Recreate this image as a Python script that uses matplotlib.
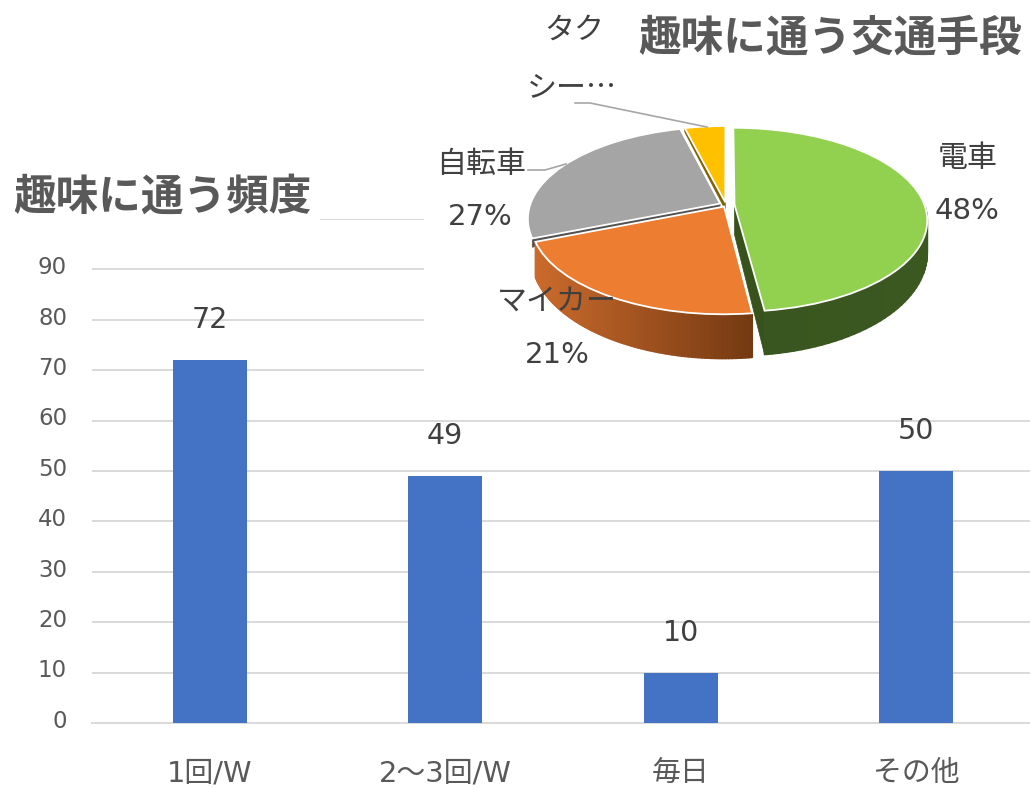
import numpy as np
import matplotlib
matplotlib.use("Agg")
import matplotlib.pyplot as plt
from matplotlib.collections import PolyCollection
from matplotlib.patches import Rectangle
from matplotlib.transforms import Transform, ScaledTranslation

plt.rcParams['font.family'] = ['Noto Sans CJK JP', 'DejaVu Sans']
LATIN_FIRST = ['DejaVu Sans', 'Noto Sans CJK JP']

bar_title = '趣味に通う頻度'
bar_cats = ['1回/W', '2〜3回/W', '毎日', 'その他']
bar_vals = [72, 49, 10, 50]
y_ticks = list(range(0, 101, 10))

pie_title = '趣味に通う交通手段'
pie_names = ['電車', 'マイカー', '自転車', 'タクシー…']
pie_vals = [48, 21, 27, 4]
pie_colors = ['#92D050', '#ED7D31', '#A5A5A5', '#FFC000']
pie_explode = [0.045, 0.02, 0.035, 0.03]

W, H = 1030, 788
GRID = '#D9D9D9'
TXT = '#595959'
LBL = '#404040'

fig = plt.figure(figsize=(W / 100, H / 100), dpi=100, facecolor='white')

# ---------- bar chart ----------
ax = fig.add_axes([92 / W, 1 - 723 / H, (1034 - 92) / W, (723 - 219) / H])
x = np.arange(len(bar_cats))
ax.bar(x, bar_vals, width=0.314, color='#4472C4', zorder=3)
ax.set_xlim(-0.5, len(bar_cats) - 0.5)
ax.set_ylim(0, 100)
ax.set_yticks(y_ticks)
ax.set_yticklabels([str(t) if t < 100 else '' for t in y_ticks], fontsize=16.5, color=TXT,
                   family=LATIN_FIRST)
ax.set_xticks(x)
ax.set_xticklabels(bar_cats, fontsize=20.8, color=TXT, family=LATIN_FIRST)
ax.tick_params(axis='both', length=0)
ax.tick_params(axis='y', pad=18)
ax.tick_params(axis='x', pad=26)
shift = ScaledTranslation(0, 3 / 72, fig.dpi_scale_trans)
for lab in ax.get_yticklabels():
    lab.set_transform(lab.get_transform() + shift)
ax.grid(axis='y', color=GRID, lw=1.4, zorder=0)
ax.set_axisbelow(True)
for s in ('top', 'left', 'right'):
    ax.spines[s].set_visible(False)
ax.spines['bottom'].set_color(GRID)
ax.spines['bottom'].set_linewidth(1.4)
for xi, v in zip(x, bar_vals):
    ax.annotate(str(v), (xi, v), xytext=(0, 28.8), textcoords='offset points',
                ha='center', va='center', fontsize=20.5, color=LBL, zorder=5, family=LATIN_FIRST)

# ---------- overlay in pixel space ----------
ov = fig.add_axes([0, 0, 1, 1], facecolor='none')


class Persp(Transform):
    """Projects the unit pie disc to the tilted screen ellipse."""
    input_dims = 2
    output_dims = 2
    is_separable = False
    has_inverse = False
    cx, cy, rx, ry, k = 726.0, 205.0, 190.0, 89.6, 0.163

    def transform_non_affine(self, xy):
        xy = np.asarray(xy, float)
        v = -xy[:, 1]
        w = 1 - self.k * v
        return np.column_stack([self.cx + self.rx * xy[:, 0] / w, self.cy + self.ry * v / w])


persp = Persp()
wedges, _ = ov.pie(pie_vals, colors=pie_colors, startangle=90, counterclock=False,
                   explode=pie_explode, radius=1.0,
                   wedgeprops=dict(edgecolor='white', linewidth=1.3))
ov.set_aspect('auto')
ov.set_xlim(0, W)
ov.set_ylim(H, 0)
ov.set_axis_off()


def depth(v):
    return 30 + 14 * v


def extrude(unit):
    unit = np.atleast_2d(unit)
    px = persp.transform_non_affine(unit)
    return px + np.column_stack([np.zeros(len(px)), depth(-unit[:, 1])])


def rim(w, t):
    return np.array(w.center) + w.r * np.column_stack([np.cos(np.radians(t)), np.sin(np.radians(t))])


def side_wall(w, c_from, c_to, z):
    """Outer wall of a wedge, split into quads for the shading."""
    lo, hi = w.theta1 % 360, w.theta2 % 360
    if hi <= lo:
        hi += 360
    ts = [a for a in np.linspace(lo, hi, 90) if 180 <= a % 360 <= 360]
    if len(ts) < 2:
        return
    u = rim(w, np.array(ts))
    top = persp.transform_non_affine(u)
    bot = extrude(u)
    xs = top[:, 0]
    f = (xs - xs.min()) / max(np.ptp(xs), 1)
    c0, c1 = matplotlib.colors.to_rgb(c_from), matplotlib.colors.to_rgb(c_to)
    polys, cols = [], []
    for i in range(len(ts) - 1):
        polys.append([top[i], top[i + 1], bot[i + 1], bot[i]])
        m = (f[i] + f[i + 1]) / 2
        cols.append(tuple(c0[j] + (c1[j] - c0[j]) * m for j in range(3)))
    ov.add_collection(PolyCollection(polys, facecolors=cols, edgecolors=cols, linewidths=1.2, zorder=z))


def cut_face(w, angle, color, z, scale=1.0):
    """Radial cut face of a wedge at the given angle; scale trims the visible depth."""
    c = np.array(w.center)[None, :]
    e = rim(w, np.array([angle]))
    a, b = persp.transform_non_affine(c)[0], persp.transform_non_affine(e)[0]
    a2, b2 = extrude(c)[0], extrude(e)[0]
    a2 = a + (a2 - a) * scale
    b2 = b + (b2 - b) * scale
    ov.add_patch(plt.Polygon([a, b, b2, a2], closed=True, facecolor=color, edgecolor=color,
                             linewidth=0.5, zorder=z))


order = {2: 3, 3: 5, 0: 7, 1: 9}   # back to front: grey, yellow, green, orange
for i, w in enumerate(wedges):
    w.set_transform(persp + ov.transData)
    w.set_zorder(order[i] + 1)
    w.set_clip_on(False)

cut_face(wedges[2], wedges[2].theta2, '#525252', 3, scale=0.25)
cut_face(wedges[3], wedges[3].theta2, '#7F6000', 5, scale=0.25)
cut_face(wedges[0], wedges[0].theta1, '#38521E', 7)
side_wall(wedges[0], '#3A5620', '#3C5821', 7)
side_wall(wedges[1], '#CB6B2C', '#753A12', 9)

# white panels of the two chart boxes
ov.add_patch(Rectangle((424, 0), W - 424, 392, facecolor='white', edgecolor='none', zorder=1))
ov.add_patch(Rectangle((0, 165), 320, 62, facecolor='white', edgecolor='none', zorder=1))

# titles
ov.text(13, 197, bar_title, fontsize=30.7, fontweight='bold', color=TXT, va='center', ha='left', zorder=20)
ov.text(1022, 38, pie_title, fontsize=30.7, fontweight='bold', color=TXT, va='center', ha='right', zorder=20)

# pie labels
ov.text(968, 158, pie_names[0], fontsize=21.6, color=LBL, ha='center', va='center', zorder=20)
ov.text(967, 211, f'{pie_vals[0]}%', fontsize=21, color=LBL, ha='center', va='center', zorder=20, family=LATIN_FIRST)
ov.text(557, 301, pie_names[1], fontsize=21.6, color=LBL, ha='center', va='center', zorder=20)
ov.text(557, 355, f'{pie_vals[1]}%', fontsize=21, color=LBL, ha='center', va='center', zorder=20, family=LATIN_FIRST)
ov.text(481, 164, pie_names[2], fontsize=21.6, color=LBL, ha='center', va='center', zorder=20)
ov.text(480, 217, f'{pie_vals[2]}%', fontsize=21, color=LBL, ha='center', va='center', zorder=20, family=LATIN_FIRST)
ov.text(574, 30, pie_names[3][:2], fontsize=21.6, color=LBL, ha='center', va='center', zorder=20)
ov.text(572, 88, pie_names[3][2:], fontsize=21.6, color=LBL, ha='center', va='center', zorder=20)

# leader lines
ov.plot([575, 590, 707], [103, 103, 127], color='#A6A6A6', lw=1.2, zorder=19)
ov.plot([528, 545, 566], [170, 170, 164], color='#A6A6A6', lw=1.2, zorder=19)

fig.savefig('out.png', dpi=100, facecolor='white')
